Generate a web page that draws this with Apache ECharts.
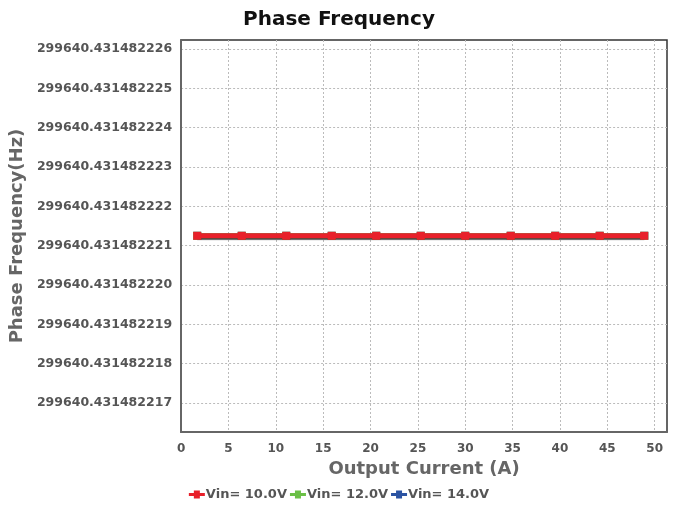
<!DOCTYPE html>
<html>
<head>
<meta charset="utf-8">
<script src="https://cdn.jsdelivr.net/npm/echarts@6/dist/echarts.min.js"></script>
<style>html,body{margin:0;padding:0;background:#fff;}#c{width:678px;height:512px;}</style>
</head>
<body>
<div id="c"></div>
<script>
// Output current (A)
var current = [1.7, 6.4, 11.1, 15.9, 20.6, 25.3, 30.0, 34.8, 39.5, 44.2, 48.9];
// Frequency values stored as offset above freqBase, in units of 1e-9 Hz
var freqBase = '299640.431482';
var vin10 = [221.25, 221.25, 221.25, 221.25, 221.25, 221.25, 221.25, 221.25, 221.25, 221.25, 221.25];
var vin12 = [221.25, 221.25, 221.25, 221.25, 221.25, 221.25, 221.25, 221.25, 221.25, 221.25, 221.25];
var vin14 = [221.25, 221.25, 221.25, 221.25, 221.25, 221.25, 221.25, 221.25, 221.25, 221.25, 221.25];
var yTicks = [217, 218, 219, 220, 221, 222, 223, 224, 225, 226];
var xTicks = [0, 5, 10, 15, 20, 25, 30, 35, 40, 45, 50];
var seriesNames = ['Vin= 10.0V', 'Vin= 12.0V', 'Vin= 14.0V'];
var colors = ['#e8202a', '#6abf45', '#2b53a2'];

function pairs(ys) { return current.map(function (x, i) { return [x, ys[i]]; }); }

var FONT = 'DejaVu Sans';
var icon = 'path://M0,2.5 L5,2.5 L5,0 L11,0 L11,2.5 L16,2.5 L16,5.5 L11,5.5 L11,8 L5,8 L5,5.5 L0,5.5 Z';

var chart = echarts.init(document.getElementById('c'), null, { renderer: 'canvas' });
var datasets = [vin10, vin12, vin14];
var series = datasets.map(function (d, i) {
  return {
    name: seriesNames[i],
    type: 'line',
    data: pairs(d),
    symbol: 'rect',
    symbolSize: 8,
    color: colors[i],
    z: 10 - i,
    lineStyle: { width: 5, color: colors[i], shadowColor: 'rgba(0,0,0,0.35)', shadowOffsetY: 1.5, shadowBlur: 1 },
    itemStyle: { color: colors[i] },
    animation: false
  };
});

chart.setOption({
  backgroundColor: '#fff',
  animation: false,
  title: {
    text: 'Phase Frequency',
    left: 'center',
    top: 5,
    textStyle: { fontFamily: FONT, fontWeight: 'bold', fontSize: 20, color: '#111' }
  },
  legend: {
    bottom: 6,
    left: 'center',
    itemWidth: 16,
    itemHeight: 8,
    itemGap: 3,
    icon: icon,
    data: seriesNames,
    textStyle: { fontFamily: FONT, fontWeight: 'bold', fontSize: 13, color: '#555', padding: [0, 0, 0, -4] }
  },
  grid: {
    left: 181, right: 11, top: 40, bottom: 80,
    show: true, borderColor: '#333', borderWidth: 1.5, containLabel: false
  },
  xAxis: {
    type: 'value',
    min: 0,
    max: 51.3,
    name: 'Output Current (A)',
    nameLocation: 'middle',
    nameGap: 25,
    nameTextStyle: { fontFamily: FONT, fontWeight: 'bold', fontSize: 18, color: '#666' },
    axisLine: { show: true, lineStyle: { color: '#666', width: 2 } },
    axisTick: { show: false, customValues: xTicks },
    axisLabel: { customValues: xTicks, margin: 11, fontFamily: FONT, fontWeight: 'bold', fontSize: 12, color: '#555' },
    splitLine: { show: true, lineStyle: { color: '#bbb', type: [2, 2], width: 1 } }
  },
  yAxis: {
    type: 'value',
    min: 216.26,
    max: 226.23,
    name: 'Phase Frequency(Hz)',
    nameLocation: 'middle',
    nameGap: 149,
    nameRotate: 90,
    nameTextStyle: { fontFamily: FONT, fontWeight: 'bold', fontSize: 18, color: '#666' },
    axisLine: { show: true, lineStyle: { color: '#666', width: 2 } },
    axisTick: { show: false, customValues: yTicks },
    axisLabel: {
      customValues: yTicks,
      margin: 9,
      fontFamily: FONT, fontWeight: 'bold', fontSize: 12.5, color: '#555',
      formatter: function (v) { return freqBase + Math.round(v); }
    },
    splitLine: { show: true, lineStyle: { color: '#bbb', type: [2, 2], width: 1 } }
  },
  series: series
});
</script>
</body>
</html>
